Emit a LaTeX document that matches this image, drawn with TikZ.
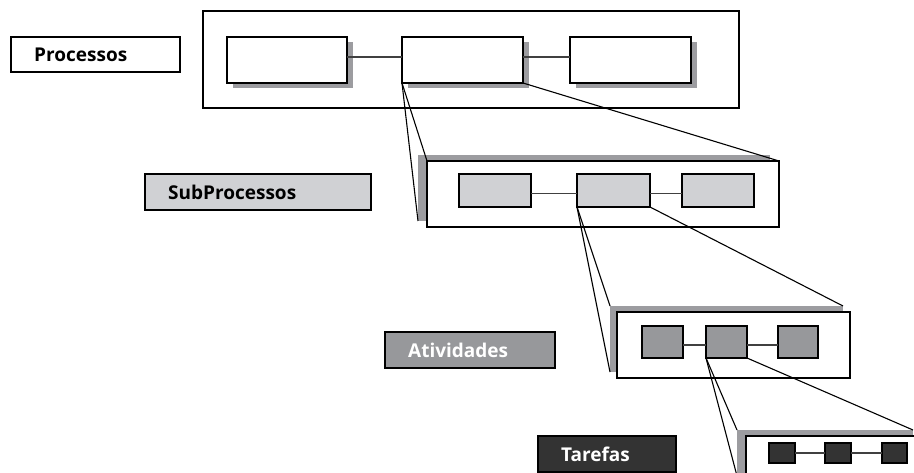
\documentclass[tikz,border=0pt]{standalone}
\usepackage{fontspec}
\setmainfont{Open Sans}
\usetikzlibrary{shadows,fit}
\definecolor{lgray}{HTML}{D0D1D4}
\definecolor{mgray}{HTML}{97989B}
\definecolor{dgray}{HTML}{333333}
\definecolor{sgray}{HTML}{9C9CA0}
\tikzset{
 lvl/.style={draw=black, line width=2pt, fill=white, inner sep=0pt, outer sep=0pt},
 inbox/.style={draw=black, line width=2.4pt, inner sep=0pt, outer sep=0pt},
 pshadow/.style={drop shadow={shadow xshift=6pt,shadow yshift=-5pt,fill=sgray,opacity=1}},
 lvlshadow/.style={fill=sgray, draw=none, inner sep=0pt, outer sep=0pt},
 lab/.style={draw=black, line width=2pt, inner sep=0pt, outer sep=0pt},
 labtext/.style={anchor=west, font=\bfseries\fontsize{19}{22}\selectfont, inner sep=0pt},
 link/.style={draw=black!75, line width=1.1pt},
 zoomline/.style={draw=black, line width=1.1pt},
}
\begin{document}
\begin{tikzpicture}[x=1pt,y=-1pt]
\useasboundingbox (0,0) rectangle (914,473);
\clip (0,0) rectangle (914,473);
% labels
\node[lab, fill=white, fit={(11,37)(180,72)}] (lp) {};
\node[labtext] (tp) at ([xshift=23pt]lp.west) {Processos};
\node[lab, fill=lgray, fit={(145,174)(371,210)}] (ls) {};
\node[labtext] (ts) at ([xshift=23pt]ls.west) {SubProcessos};
\node[lab, fill=mgray, fit={(385,332)(555,368)}] (la) {};
\node[labtext, text=white] (ta) at ([xshift=23pt]la.west) {Atividades};
\node[lab, fill=dgray, fit={(538,436)(676,472)}] (lt) {};
\node[labtext, text=white] (tt) at ([xshift=23pt]lt.west) {Tarefas};
% level 1: Processos
\node[lvl, fit={(203,11)(739,108)}] (P) {};
\node[inbox, pshadow, fill=white, fit={(227,37)(347,83)}] (p1) {};
\node[inbox, pshadow, fill=white, fit={(402,37)(523,83)}] (p2) {};
\node[inbox, pshadow, fill=white, fit={(570,37)(691,83)}] (p3) {};
\draw[link] ([yshift=3pt]p1.east) -- ([yshift=3pt]p2.west);
\draw[link] ([yshift=3pt]p2.east) -- ([yshift=3pt]p3.west);
% level 2: SubProcessos
\node[lvlshadow, fit={(418,155)(770,221)}] (Ssh) {};
\node[lvl, fit={(427,161)(779,227)}] (S) {};
\node[inbox, fill=lgray, fit={(459,174)(531,207)}] (s1) {};
\node[inbox, fill=lgray, fit={(577,174)(650,207)}] (s2) {};
\node[inbox, fill=lgray, fit={(682,174)(754,207)}] (s3) {};
\draw[link] ([yshift=-3pt]s1.east) -- ([yshift=-3pt]s2.west);
\draw[link] ([yshift=-3pt]s2.east) -- ([yshift=-3pt]s3.west);
% level 3: Atividades
\node[lvlshadow, fit={(610,306)(843,372)}] (Ash) {};
\node[lvl, fit={(617,312)(850,378)}] (A) {};
\node[inbox, fill=mgray, fit={(642,326)(683,358)}] (a1) {};
\node[inbox, fill=mgray, fit={(706,326)(747,358)}] (a2) {};
\node[inbox, fill=mgray, fit={(778,326)(818,358)}] (a3) {};
\draw[link] ([yshift=-3pt]a1.east) -- ([yshift=-3pt]a2.west);
\draw[link] ([yshift=-3pt]a2.east) -- ([yshift=-3pt]a3.west);
% level 4: Tarefas
\node[lvlshadow, fit={(737,430)(913,476)}] (Tsh) {};
\node[lvl, fit={(746,436)(922,482)}] (T) {};
\node[inbox, fill=dgray, fit={(769,443)(795,463)}] (t1) {};
\node[inbox, fill=dgray, fit={(825,443)(851,463)}] (t2) {};
\node[inbox, fill=dgray, fit={(882,443)(907,463)}] (t3) {};
\draw[link] (t1.east) -- (t2.west);
\draw[link] (t2.east) -- (t3.west);
% zoom connectors
\draw[zoomline] (p2.south west) -- (Ssh.south west);
\draw[zoomline] (p2.south west) -- (S.north west);
\draw[zoomline] (p2.south east) -- (S.north east);
\draw[zoomline] (s2.south west) -- (Ash.south west);
\draw[zoomline] (s2.south west) -- (Ash.north west);
\draw[zoomline] (s2.south east) -- (Ash.north east);
\draw[zoomline] (a2.south west) -- (Tsh.south west);
\draw[zoomline] (a2.south west) -- (Tsh.north west);
\draw[zoomline] (a2.south east) -- (Tsh.north east);
\end{tikzpicture}
\end{document}
